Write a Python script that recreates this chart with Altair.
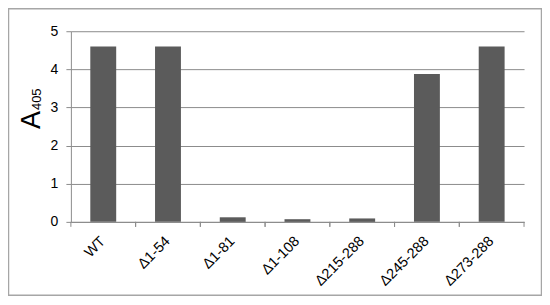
import altair as alt
import pandas as pd

categories = ["WT", "Δ1-54", "Δ1-81", "Δ1-108", "Δ215-288", "Δ245-288", "Δ273-288"]
values = [4.6, 4.6, 0.12, 0.07, 0.09, 3.88, 4.6]
y_ticks = [0, 1, 2, 3, 4, 5]
title_main = "A"
title_sub = "405"

df = pd.DataFrame({"cat": categories, "val": values})

W, H = 454, 191
GRAY = "#8c8c8c"
FONT = "Liberation Sans"

xscale = alt.Scale(domain=categories, paddingInner=0, paddingOuter=0)
yscale = alt.Scale(domain=[0, 5], nice=False)

base = alt.Chart(df)

bars = base.mark_bar(color="#5b5b5b", width=alt.RelativeBandSize(0.4)).encode(
    x=alt.X("cat:N", scale=xscale, title=None,
            axis=alt.Axis(labelAngle=-45, labelAlign="right", labelBaseline="middle",
                          ticks=False, labelPadding=17, domainColor=GRAY,
                          labelFontSize=14.5, labelColor="black", labelFont=FONT, grid=False)),
    y=alt.Y("val:Q", scale=yscale, title=None,
            axis=alt.Axis(values=y_ticks, grid=True, gridColor=GRAY, domainColor=GRAY,
                          tickColor=GRAY, tickSize=5, labelPadding=8, labelFontSize=14,
                          labelFont=FONT, labelColor="black", format="d")),
)

ticks_left = base.mark_rule(color=GRAY).encode(
    x=alt.X("cat:N", bandPosition=0, scale=xscale, title=None),
    y=alt.value(H), y2=alt.value(H + 5),
)
ticks_right = base.mark_rule(color=GRAY).encode(
    x=alt.X("cat:N", bandPosition=1, scale=xscale, title=None),
    y=alt.value(H), y2=alt.value(H + 5),
)

border = alt.Chart(pd.DataFrame({"k": [0]})).mark_rect(
    filled=False, stroke="#a6a6a6", strokeWidth=1.5
).encode(x=alt.value(-62.5), x2=alt.value(471.5), y=alt.value(-22.5), y2=alt.value(264.5))

tA = alt.Chart(pd.DataFrame({"t": [title_main]})).mark_text(
    angle=270, align="left", baseline="alphabetic", fontSize=27, font=FONT, color="black"
).encode(text="t:N", x=alt.value(-30.5), y=alt.value(98))

tS = alt.Chart(pd.DataFrame({"t": [title_sub]})).mark_text(
    angle=270, align="left", baseline="alphabetic", fontSize=13, font=FONT, color="black"
).encode(text="t:N", x=alt.value(-29.5), y=alt.value(79))

chart = alt.layer(border, bars, ticks_left, ticks_right, tA, tS).properties(
    width=W, height=H,
    autosize=alt.AutoSizeParams(type="none"),
    padding={"left": 63, "top": 23, "right": 18, "bottom": 75},
).configure_view(stroke="transparent")

chart.save("out.html", embed_options={"renderer": "svg", "actions": False})
